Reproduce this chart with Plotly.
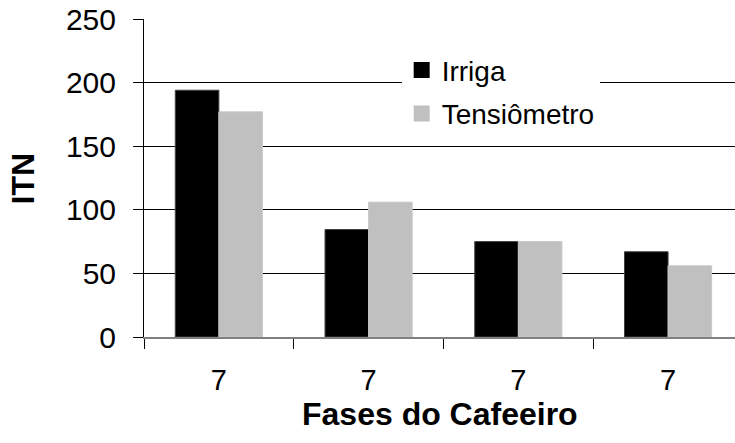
import plotly.graph_objects as go

categories = ["7", "7", "7", "7"]
irriga = [194, 84.5, 75, 67]
tensiometro = [177, 106, 75, 56]
series_names = ["Irriga", "Tensiômetro"]
series_colors = ["#000000", "#C0C0C0"]
y_ticks = [0, 50, 100, 150, 200, 250]

positions = list(range(len(categories)))
boundaries = [p - 0.5 for p in positions] + [positions[-1] + 0.5]

FONT = "Liberation Sans, Arial, sans-serif"

fig = go.Figure()
fig.add_trace(go.Bar(x=positions, y=irriga, name=series_names[0], showlegend=False,
                     marker=dict(color=series_colors[0], line=dict(color="#404040", width=1))))
fig.add_trace(go.Bar(x=positions, y=tensiometro, name=series_names[1], showlegend=False,
                     marker=dict(color=series_colors[1], line=dict(color="#C8C8C8", width=1))))
# legend entries with larger square swatches
for i, (nm, col) in enumerate(zip(series_names, series_colors)):
    fig.add_trace(go.Scatter(x=[None], y=[None], mode="markers", name=nm,
                             legendgroup=f"g{i}",
                             marker=dict(symbol="square", size=16, color=col,
                                         line=dict(width=0))))

fig.update_layout(
    width=735, height=443,
    margin=dict(l=143.5, r=0, t=18.5, b=106),
    paper_bgcolor="white", plot_bgcolor="white",
    barmode="group", bargap=0.418, bargroupgap=0,
    font=dict(family=FONT, color="black"),
    showlegend=True,
    legend=dict(x=0.436, y=0.917, xanchor="left", yanchor="top",
                bgcolor="white", borderwidth=0,
                font=dict(size=28, family=FONT),
                tracegroupgap=4),
    annotations=[
        dict(text="<b>Fases do Cafeeiro</b>", xref="paper", yref="paper",
             x=0.5, y=-0.243, xanchor="center", yanchor="middle",
             showarrow=False, font=dict(size=32, family=FONT)),
        dict(text="<b>ITN</b>", xref="paper", yref="paper",
             x=-0.204, y=0.5, xanchor="center", yanchor="middle", textangle=-90,
             showarrow=False, font=dict(size=32, family=FONT)),
    ],
)

fig.update_xaxes(
    automargin=False,
    range=[-0.5, 3.447],
    tickmode="array", tickvals=positions, ticktext=categories,
    ticks="outside", ticklen=10, tickcolor="rgba(0,0,0,0)",
    ticklabelstandoff=6,
    tickfont=dict(size=29, family=FONT),
    minor=dict(tickmode="array", tickvals=boundaries, ticks="outside",
               ticklen=10, tickcolor="black", tickwidth=1, showgrid=False),
    showline=True, linecolor="#808080", linewidth=2,
    showgrid=False, zeroline=False,
)

fig.update_yaxes(
    automargin=False,
    range=[0, 250],
    tickmode="array", tickvals=y_ticks,
    ticks="outside", ticklen=10, tickcolor="black", tickwidth=1,
    ticklabelstandoff=11,
    tickfont=dict(size=30, family=FONT),
    showline=True, linecolor="black", linewidth=1,
    showgrid=True, gridcolor="black", gridwidth=1,
    zeroline=False,
)

fig.write_html("out.html", config={"displayModeBar": False},
               post_script="document.body.style.margin='0px';")
